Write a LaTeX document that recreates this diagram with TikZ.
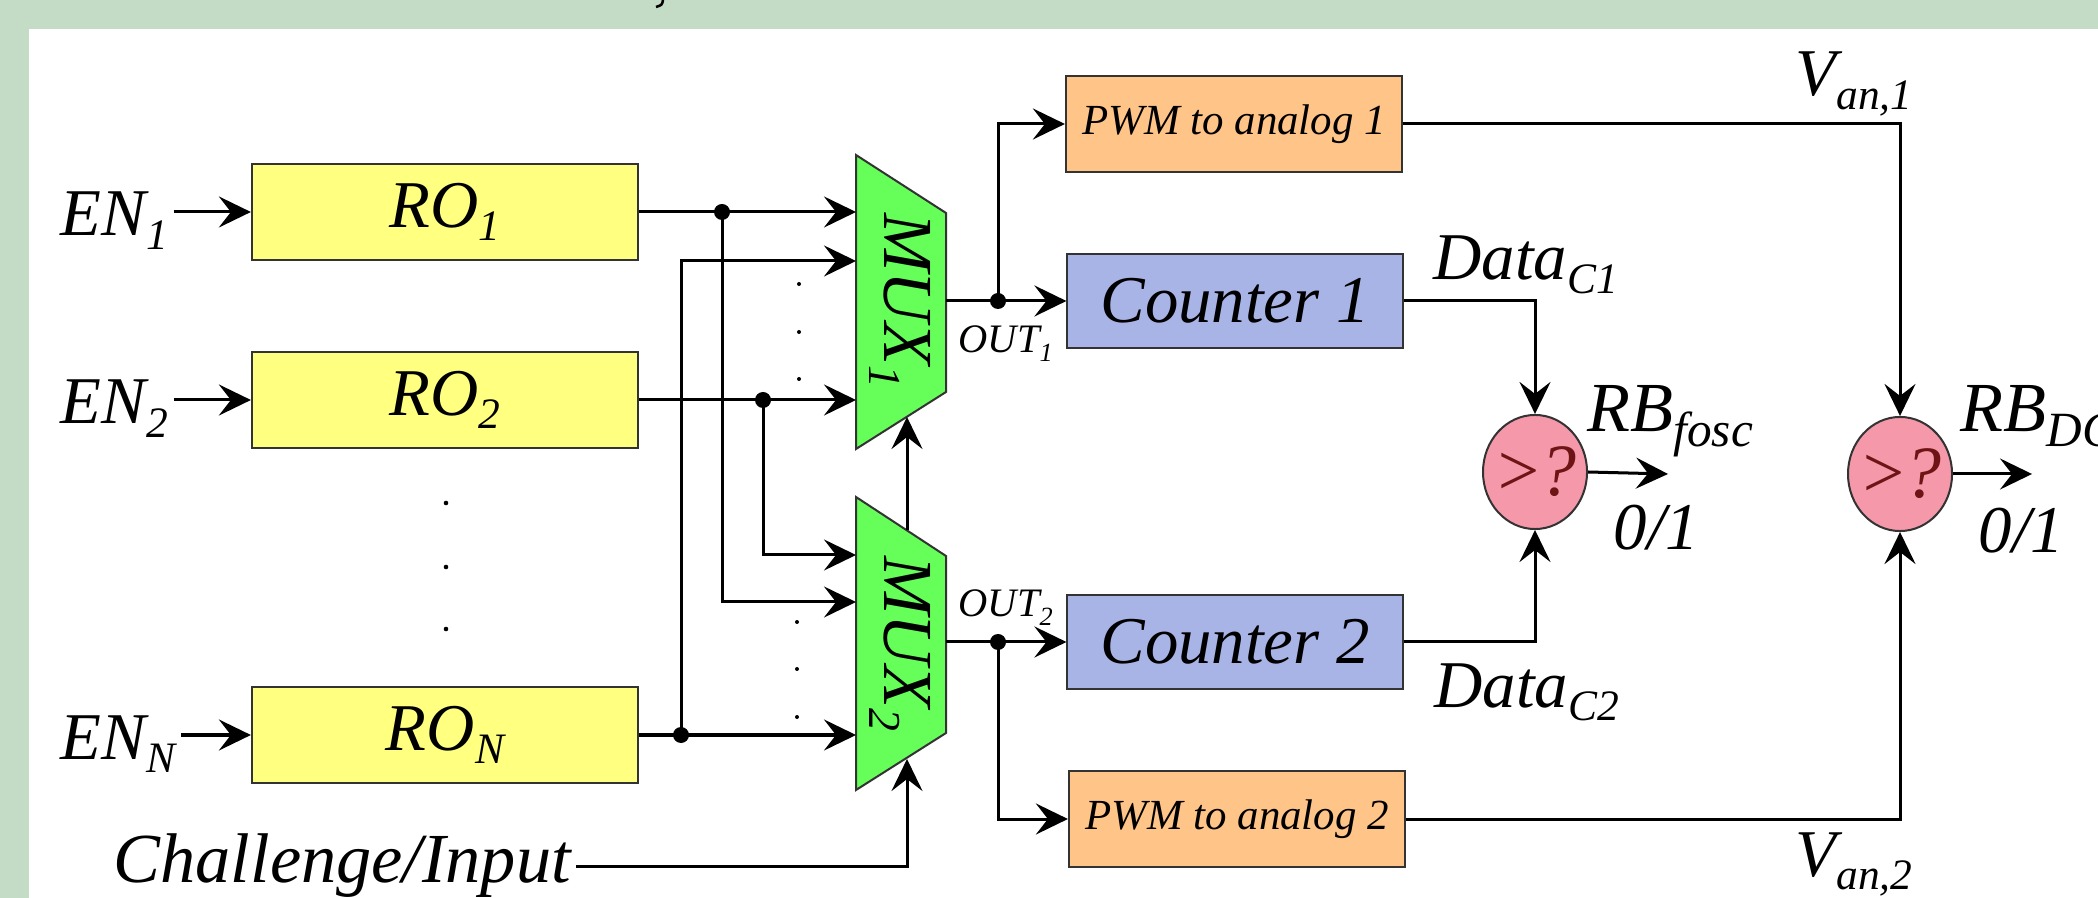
\documentclass[tikz,border=0pt]{standalone}
\usepackage{fontspec}
\setmainfont{Liberation Serif}
\usetikzlibrary{arrows.meta,shapes.geometric}
\definecolor{bandgreen}{RGB}{196,219,198}
\definecolor{roy}{RGB}{255,255,128}
\definecolor{muxg}{RGB}{102,255,90}
\definecolor{cntb}{RGB}{169,180,230}
\definecolor{pwmo}{RGB}{255,196,136}
\definecolor{cmpp}{RGB}{245,152,170}
\definecolor{cmpt}{RGB}{110,20,20}
\newcommand\lo[1]{\raisebox{-0.2em}{\scalebox{0.65}{#1}}}
\newcommand\lob[1]{\raisebox{-0.2em}{\scalebox{0.7}{#1}}}
\begin{document}
\begin{tikzpicture}[x=0.01cm,y=-0.01cm,
  lbl/.style={font=\fontsize{19}{22}\selectfont\itshape, inner sep=0pt},
  chlbl/.style={font=\fontsize{20}{22}\selectfont\itshape, inner sep=0pt},
  rblbl/.style={font=\fontsize{20}{22}\selectfont\itshape, inner sep=0pt},
  slbl/.style={font=\fontsize{11.5}{14}\selectfont\itshape, inner sep=0pt},
  boxbase/.style={draw=black!80, line width=0.02cm, inner sep=0pt},
  robox/.style={boxbase, fill=roy, minimum width=3.86cm, minimum height=0.96cm, font=\fontsize{19}{22}\selectfont\itshape},
  cntbox/.style={boxbase, fill=cntb, minimum width=3.35cm, minimum height=0.94cm, font=\fontsize{19}{22}\selectfont\itshape},
  pwmbox/.style={boxbase, fill=pwmo, minimum width=3.36cm, minimum height=0.96cm, font=\fontsize{12.2}{14}\selectfont\itshape},
  cmpnode/.style={ellipse, draw=black!80, line width=0.02cm, fill=cmpp, minimum width=1.04cm, minimum height=1.14cm, inner sep=-0.15cm, text=cmpt, font=\fontsize{21}{23}\selectfont\itshape},
  muxshape/.style={draw=black!80, line width=0.02cm, fill=muxg},
  muxlbl/.style={rotate=-90, font=\fontsize{20}{22}\selectfont\itshape, inner sep=0pt},
  arr/.style={-{Stealth[length=0.32cm,width=0.31cm,inset=0.12cm]}, line width=0.03cm},
  jdot/.style={fill=black},
]
\useasboundingbox (0,0) rectangle (2098,898);
% background
\fill[bandgreen] (0,0) rectangle (2098,898);
\fill[white] (29,29) rectangle (2098,898);
\draw[line width=0.025cm] (663,0) .. controls (662,5) .. (656,7);

% RO boxes
\node[robox] (ro1) at (445,212) {RO\lo{1}};
\node[robox] (ro2) at (445,400) {RO\lo{2}};
\node[robox] (roN) at (445,735) {RO\lo{N}};
% EN labels
\node[lbl, anchor=base west] (en1) at (60,236) {EN\lo{1}};
\node[lbl, anchor=base west] (en2) at (60,424) {EN\lo{2}};
\node[lbl, anchor=base west] (enN) at (60,759) {EN\lo{N}};
\node[chlbl, anchor=base west] (chal) at (113,882) {Challenge/Input};
\coordinate (chl) at (576,866);

% vertical dots
\foreach \yy in {503,567,629} \fill (446,\yy) circle (2.3);
\foreach \yy in {284,332,379} \fill (799,\yy) circle (2);
\foreach \yy in {622,669,717} \fill (797,\yy) circle (2);

% MUX shapes
\filldraw[muxshape] (856,155) -- (946,213) -- (946,392) -- (856,449) -- cycle;
\filldraw[muxshape] (856,497) -- (946,556) -- (946,733) -- (856,790) -- cycle;
\node[muxlbl] (mux1) at (900,301) {MUX\lo{1}};
\node[muxlbl] (mux2) at (900,644) {MUX\lo{2}};
\coordinate (m1i1) at (856,212);
\coordinate (m1i2) at (856,261);
\coordinate (m1i3) at (856,400);
\coordinate (m2i1) at (856,555);
\coordinate (m2i2) at (856,602);
\coordinate (m2i3) at (856,735);
\coordinate (m1out) at (946,301);
\coordinate (m2out) at (946,642);
\coordinate (m1sel) at (907,417);
\coordinate (m2sel) at (907,759);
\coordinate (m2top) at (907,530);

% junctions
\coordinate (j1) at (722,212);
\coordinate (j2) at (763,400);
\coordinate (j3) at (681,735);
\coordinate (jo1) at (998,301);
\coordinate (jo2) at (998,642);

% right blocks
\node[pwmbox] (pwm1) at (1234,124) {PWM to analog 1};
\node[cntbox] (cnt1) at (1235,301) {Counter 1};
\node[cntbox] (cnt2) at (1235,642) {Counter 2};
\node[pwmbox] (pwm2) at (1237,819) {PWM to analog 2};
\node[cmpnode] (cmp1) at (1535,472) {>\kern-0.06em?};
\node[cmpnode] (cmp2) at (1900,474) {>\kern-0.06em?};
\coordinate (r1) at (1668,474);
\coordinate (r2) at (2032,474);

% labels
\node[slbl, anchor=base west] (out1) at (958,353) {OUT\lo{1}};
\node[slbl, anchor=base west] (out2) at (958,617) {OUT\lo{2}};
\node[lbl, anchor=base west] (dc1) at (1433,280) {Data\lo{C1}};
\node[lbl, anchor=base west] (dc2) at (1434,707) {Data\lo{C2}};
\node[rblbl, anchor=base west] (rbf) at (1587,432) {RB\lob{fosc}};
\node[rblbl, anchor=base west] (rbd) at (1960,432) {RB\lob{DC}};
\node[lbl, anchor=base west] (o1) at (1613,550) {0/1};
\node[lbl, anchor=base west] (o2) at (1978,553) {0/1};
\node[lbl, anchor=base west] (va1) at (1795,96) {V\lo{an,1}};
\node[lbl, anchor=base west] (va2) at (1795,876) {V\lo{an,2}};

% connectors
\draw[arr] ([xshift=0.05cm]en1.east |- ro1.west) -- (ro1.west);
\draw[arr] ([xshift=0.05cm]en2.east |- ro2.west) -- (ro2.west);
\draw[arr] ([xshift=0.05cm]enN.east |- roN.west) -- (roN.west);
\draw[arr] (ro1.east) -- (m1i1);
\draw[arr] (j1) |- (m2i2);
\draw[arr] (ro2.east) -- (m1i3);
\draw[arr] (j2) |- (m2i1);
\draw[arr] (roN.east) -- (m2i3);
\draw[arr] (j3) |- (m1i2);
\draw[arr] (chl) -| (m2sel);
\draw[arr] (m2top) -- (m1sel);
\draw[arr] (m1out) -- (cnt1.west);
\draw[arr] (jo1) |- (pwm1.west);
\draw[arr] (m2out) -- (cnt2.west);
\draw[arr] (jo2) |- (pwm2.west);
\draw[arr] (cnt1.east) -| (cmp1.north);
\draw[arr] (cnt2.east) -| (cmp1.south);
\draw[arr] (pwm1.east) -| (cmp2.north);
\draw[arr] (pwm2.east) -| (cmp2.south);
\draw[arr] (cmp1.east) -- (r1);
\draw[arr] (cmp2.east) -- (r2);
\foreach \j in {j1,j2,j3,jo1,jo2} \fill[jdot] (\j) circle (8);
\end{tikzpicture}
\end{document}
